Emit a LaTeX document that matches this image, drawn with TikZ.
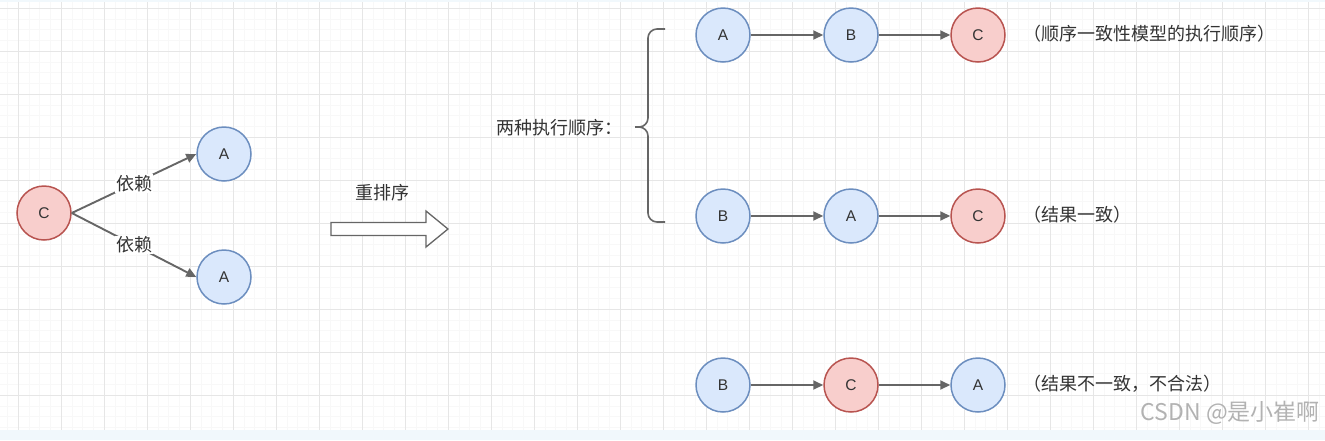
\documentclass[tikz,border=0pt]{standalone}
\usepackage{fontspec}
\setmainfont{Liberation Sans}
\newfontfamily\cjk{Noto Sans CJK SC}
\usetikzlibrary{arrows.meta}
\definecolor{bfill}{HTML}{DAE8FC}
\definecolor{bline}{HTML}{6C8EBF}
\definecolor{rfill}{HTML}{F8CECC}
\definecolor{rline}{HTML}{B85450}
\definecolor{edge}{HTML}{666666}
\definecolor{gmin}{HTML}{F8F8F8}
\definecolor{gmaj}{HTML}{E6E6E6}
\definecolor{band}{HTML}{F1F8FC}
\definecolor{txt}{HTML}{333333}
\tikzset{
  bnode/.style={circle, draw=bline, fill=bfill, line width=1.5pt, minimum size=54pt, inner sep=0pt, font=\fontsize{15.5}{18}\selectfont, text=txt},
  rnode/.style={circle, draw=rline, fill=rfill, line width=1.5pt, minimum size=54pt, inner sep=0pt, font=\fontsize{15.5}{18}\selectfont, text=txt},
  arr/.style={draw=edge, line width=1.9pt, -{Triangle[length=10pt,width=9pt]}},
  cjktext/.style={font=\cjk\fontsize{18}{21}\selectfont, text=txt, inner sep=1pt},
}
\begin{document}
\begin{tikzpicture}[x=1pt,y=-1pt]
\useasboundingbox (0,0) rectangle (1325,440);
% grid
\foreach \i in {0,...,124} {\draw[gmin, line width=0.5pt] ({7.25+10.75*\i},0) -- ({7.25+10.75*\i},430);}
\foreach \i in {0,...,40} {\draw[gmin, line width=0.5pt] (0,{-2.75+10.75*\i}) -- (1325,{-2.75+10.75*\i});}
\foreach \i in {0,...,30} {\draw[gmaj, line width=1pt] ({18+43*\i},0) -- ({18+43*\i},430);}
\foreach \i in {0,...,10} {\draw[gmaj, line width=1pt] (0,{8+43*\i}) -- (1325,{8+43*\i});}
\fill[band] (0,430) rectangle (1325,440);
\fill[band] (0,0) rectangle (1325,2);

% left part
\node[rnode] (C0) at (44,213) {C};
\node[bnode] (A1) at (224,154) {A};
\node[bnode] (A2) at (224,277) {A};
\draw[arr] (C0.east) -- node[cjktext, fill=white, midway] {依赖} (A1.west);
\draw[arr] (C0.east) -- node[cjktext, fill=white, midway] {依赖} (A2.west);

% reorder arrow
\node[cjktext] (reorder) at (382,193) {重排序};
\coordinate (bs) at (331,229);
\draw[edge, line width=1.3pt, fill=white] (bs) ++(0,-6.5) -- ++(95,0) -- ++(0,-11.5) -- (448,229) -- (426,247) -- ++(0,-11.5) -- ++(-95,0) -- cycle;

% label and brace
\node[cjktext, anchor=west] (two) at (495,128) {两种执行顺序：};
\coordinate (bt) at (665,29);
\coordinate (bb) at (665,222);
\coordinate (bm) at (635,127);
\draw[edge, line width=1.6pt, rounded corners=9pt] (bt) -- (648,29) -- (648,127) -- (bm);
\draw[edge, line width=1.6pt, rounded corners=9pt] (bm) -- (648,127) -- (648,222) -- (bb);

% row 1
\node[bnode] (r1a) at (723,35) {A};
\node[bnode] (r1b) at (851,35) {B};
\node[rnode] (r1c) at (978,35) {C};
\draw[arr] (r1a) -- (r1b);
\draw[arr] (r1b) -- (r1c);
\node[cjktext, anchor=west] (t1) at (1022,34) {（顺序一致性模型的执行顺序）};

% row 2
\node[bnode] (r2b) at (723,216) {B};
\node[bnode] (r2a) at (851,216) {A};
\node[rnode] (r2c) at (978,216) {C};
\draw[arr] (r2b) -- (r2a);
\draw[arr] (r2a) -- (r2c);
\node[cjktext, anchor=west] (t2) at (1022,215) {（结果一致）};

% row 3
\node[bnode] (r3b) at (723,385) {B};
\node[rnode] (r3c) at (851,385) {C};
\node[bnode] (r3a) at (978,385) {A};
\draw[arr] (r3b) -- (r3c);
\draw[arr] (r3c) -- (r3a);
\node[cjktext, anchor=west] (t3) at (1022,384) {（结果不一致，不合法）};

% watermark
\node[font=\cjk\fontsize{23}{26}\selectfont, text=black!30, anchor=east, inner sep=1pt] (wm) at (1321,413) {CSDN @是小崔啊};
\end{tikzpicture}
\end{document}
